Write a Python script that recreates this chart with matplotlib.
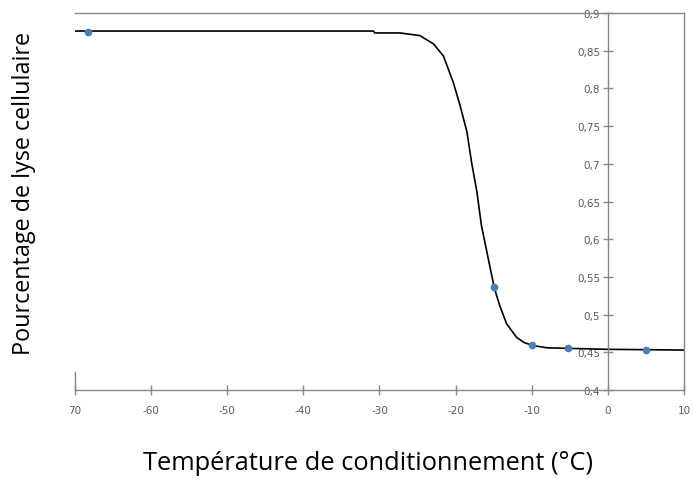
import matplotlib
matplotlib.use('Agg')
import matplotlib.pyplot as plt

# Mesures (température en °C, fraction de lyse)
temp_mesure = [-68.3, -15.0, -10.0, -5.2, 5.0]
lyse_mesure = [0.875, 0.536, 0.460, 0.456, 0.453]

# Courbe d'ajustement relevée point par point
temp_courbe = [-70.0, -50.0, -36.5, -30.8, -30.6, -27.3, -24.7, -22.9, -21.6,
               -20.3, -19.4, -18.5, -17.9, -17.2, -16.6, -15.7, -14.9, -14.2,
               -13.3, -12.0, -11.0, -9.8, -8.0, 0.0, 10.0]
lyse_courbe = [0.876, 0.876, 0.876, 0.876, 0.8735, 0.8735, 0.870, 0.859, 0.843,
               0.808, 0.777, 0.742, 0.702, 0.663, 0.618, 0.574, 0.535, 0.512,
               0.488, 0.470, 0.463, 0.459, 0.456, 0.454, 0.453]

xticks = list(range(-70, 11, 10))
xtick_labels = ['70'] + [str(t) for t in xticks[1:]]
yticks = [0.4 + 0.05 * i for i in range(11)]
ytick_labels = [f'{t:.2f}'.rstrip('0').rstrip('.').replace('.', ',') for t in yticks]

axis_grey = '#888888'
text_grey = '#595959'

fig = plt.figure(figsize=(6.94, 4.81), dpi=100)
ax = fig.add_axes([0.108, 0.187, 0.8775, 0.784])

ax.plot(temp_courbe, lyse_courbe, color='black', lw=1.2, zorder=2,
        solid_joinstyle='round')
ax.plot(temp_mesure, lyse_mesure, 'o', color='#4a7ebb', ms=4.5, zorder=3)

ax.set_xlim(-70, 10)
ax.set_ylim(0.4, 0.9)

# axe vertical placé en x = 0
ax.spines['left'].set_position(('data', 0))
for side in ['left', 'right', 'top', 'bottom']:
    ax.spines[side].set_color(axis_grey)
    ax.spines[side].set_linewidth(1.0)

# petit morceau du bord gauche
ax.plot([-70, -70], [0.4, 0.424], color=axis_grey, lw=1.0, clip_on=False)

ax.set_xticks(xticks)
ax.set_xticklabels(xtick_labels)
ax.set_yticks(yticks)
ax.set_yticklabels(ytick_labels)
ax.tick_params(axis='both', direction='inout', length=7, width=1.0,
               color=axis_grey, labelcolor=text_grey, labelsize=7.5)
ax.tick_params(axis='x', pad=7)
ax.tick_params(axis='y', pad=2)

fig.text(0.530, 0.037, 'Température de conditionnement (°C)',
         ha='center', va='center', fontsize=18.3, family='Open Sans')
fig.text(0.035, 0.598, 'Pourcentage de lyse cellulaire', rotation=90,
         ha='center', va='center', fontsize=16.8, family='Open Sans')

fig.savefig('out.png', dpi=100)
